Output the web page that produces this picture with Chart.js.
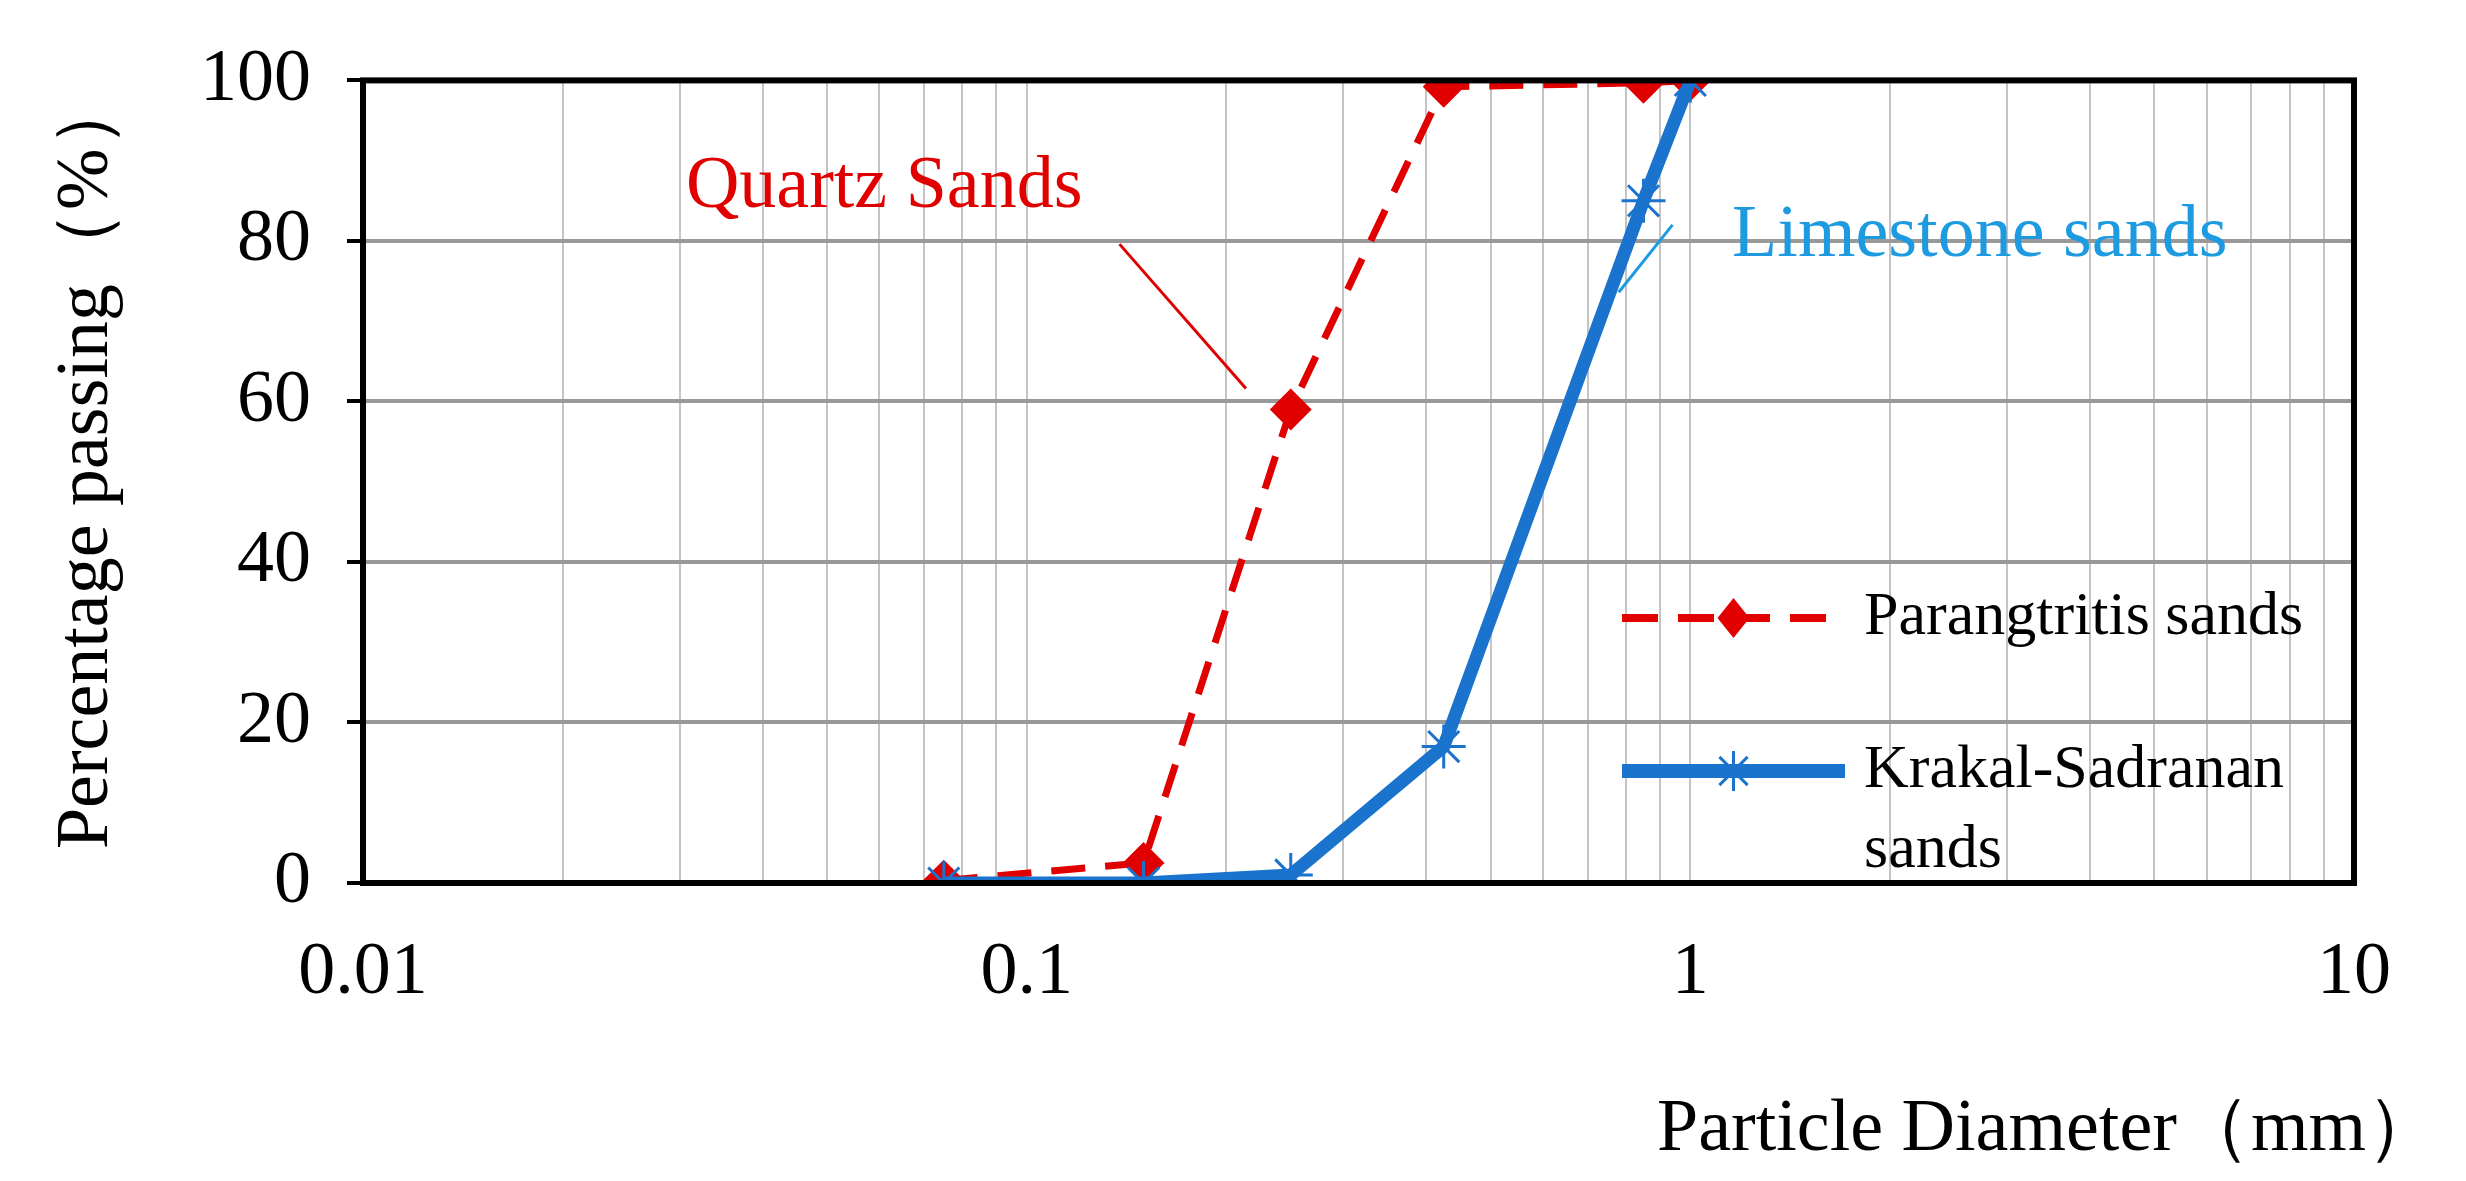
<!DOCTYPE html>
<html><head><meta charset="utf-8">
<script src="https://cdn.jsdelivr.net/npm/chart.js@4"></script>
<style>html,body{margin:0;background:#fff}#wrap{width:2466px;height:1181px}</style>
</head><body><div id="wrap"><canvas id="c"></canvas></div>
<script>
// sieve sizes (mm) and percent passing
const sizes = [0.075, 0.15, 0.25, 0.425, 0.85, 1];
const parangtritis = [0.3, 2.5, 59, 99.2, 99.7, 100];
const krakal = [0, 0, 1, 17, 85, 100];
const decades = [0.01, 0.1, 1, 10];
const yTicks = [0, 20, 40, 60, 80, 100];

const FONT = '"Liberation Serif", "DejaVu Serif", serif';
const RED = '#e00000', BLUE = '#1a73cc';

const minorTicks = [];
decades.slice(0, 3).forEach(d => { for (let m = 1; m < 10; m++) minorTicks.push(+(d * m).toPrecision(3)); });
minorTicks.push(10);

const decor = {
    id: 'decor',
    afterDraw(chart) {
        const { ctx, chartArea: a, scales: { x, y } } = chart;
        ctx.save();
        ctx.strokeStyle = '#000'; ctx.lineWidth = 6;
        ctx.strokeRect(a.left, a.top, a.right - a.left, a.bottom - a.top);

        // axis titles
        ctx.fillStyle = '#000';
        ctx.font = '74px ' + FONT;
        ctx.textAlign = 'right'; ctx.textBaseline = 'alphabetic';
        ctx.fillText('Particle Diameter\uff08mm\uff09', 2440, 1150);
        ctx.save();
        ctx.translate(88, (a.top + a.bottom) / 2 - 20);
        ctx.rotate(-Math.PI / 2);
        ctx.textAlign = 'center'; ctx.textBaseline = 'middle';
        ctx.fillText('Percentage passing\uff08%\uff09', 0, 0);
        ctx.restore();

        // annotations
        ctx.font = '74px ' + FONT;
        ctx.fillStyle = RED; ctx.textAlign = 'center'; ctx.textBaseline = 'middle';
        ctx.fillText('Quartz Sands', x.getPixelForValue(0.061), y.getPixelForValue(86.7));
        ctx.strokeStyle = RED; ctx.lineWidth = 3;
        ctx.beginPath();
        ctx.moveTo(x.getPixelForValue(0.138), y.getPixelForValue(79.6));
        ctx.lineTo(x.getPixelForValue(0.214), y.getPixelForValue(61.6));
        ctx.stroke();
        ctx.fillStyle = '#1e9be0'; ctx.textAlign = 'left';
        ctx.fillText('Limestone sands', x.getPixelForValue(1.156), y.getPixelForValue(80.6));
        ctx.strokeStyle = '#1e9be0';
        ctx.beginPath();
        ctx.moveTo(x.getPixelForValue(0.94), y.getPixelForValue(82));
        ctx.lineTo(x.getPixelForValue(0.78), y.getPixelForValue(73.6));
        ctx.stroke();

        // legend
        const lx0 = 1622, lx1 = 1845, tx = 1864;
        ctx.font = '62px ' + FONT; ctx.fillStyle = '#000';
        ctx.textBaseline = 'middle';
        let ly = 618;
        ctx.strokeStyle = RED; ctx.lineWidth = 8; ctx.setLineDash([36, 20]);
        ctx.beginPath(); ctx.moveTo(lx0, ly); ctx.lineTo(lx1, ly); ctx.stroke();
        ctx.setLineDash([]);
        const cx = (lx0 + lx1) / 2;
        ctx.fillStyle = RED;
        ctx.beginPath(); ctx.moveTo(cx, ly - 20); ctx.lineTo(cx + 16, ly); ctx.lineTo(cx, ly + 20); ctx.lineTo(cx - 16, ly); ctx.closePath(); ctx.fill();
        ctx.fillStyle = '#000';
        ctx.fillText('Parangtritis sands', tx, ly);
        ly = 771;
        ctx.strokeStyle = BLUE; ctx.lineWidth = 14;
        ctx.beginPath(); ctx.moveTo(lx0, ly); ctx.lineTo(lx1, ly); ctx.stroke();
        ctx.lineWidth = 3;
        for (let k = 0; k < 4; k++) {
            const t = k * Math.PI / 4 + Math.PI / 2;
            ctx.beginPath();
            ctx.moveTo(cx - 20 * Math.cos(t), ly - 20 * Math.sin(t));
            ctx.lineTo(cx + 20 * Math.cos(t), ly + 20 * Math.sin(t));
            ctx.stroke();
        }
        ctx.fillStyle = '#000';
        ctx.fillText('Krakal-Sadranan', tx, ly);
        ctx.fillText('sands', tx, ly + 80);
        ctx.restore();
    }
};

new Chart(document.getElementById('c'), {
    type: 'line',
    data: {
        datasets: [
            {
                label: 'Parangtritis sands',
                data: sizes.map((s, i) => ({ x: s, y: parangtritis[i] })),
                borderColor: RED, backgroundColor: RED,
                borderWidth: 7, borderDash: [34, 20],
                pointStyle: 'rectRot', pointRadius: 16,
                order: 2
            },
            {
                label: 'Krakal-Sadranan sands',
                data: sizes.map((s, i) => ({ x: s, y: krakal[i] })),
                borderColor: BLUE, backgroundColor: BLUE,
                borderWidth: 13,
                pointStyle: 'star', pointRadius: 22, pointBorderWidth: 3,
                order: 1
            }
        ]
    },
    options: {
        responsive: true, maintainAspectRatio: false, animation: false,
        layout: { padding: { top: 70, right: 112, left: 0, bottom: 0 } },
        plugins: { legend: { display: false }, tooltip: { enabled: false } },
        scales: {
            x: {
                type: 'logarithmic', min: 0.01, max: 10,
                afterBuildTicks: s => { s.ticks = minorTicks.map(v => ({ value: v })); },
                afterFit: s => { s.height = 298; },
                grid: { color: '#c4c4c4', lineWidth: 2, drawTicks: false },
                border: { display: false },
                ticks: {
                    autoSkip: false, maxRotation: 0, padding: 46, color: '#000',
                    font: { family: FONT, size: 74 },
                    callback: v => decades.includes(v) ? String(v) : ''
                }
            },
            y: {
                min: 0, max: 100,
                afterBuildTicks: s => { s.ticks = yTicks.map(v => ({ value: v })); },
                afterFit: s => { s.width = 363; },
                grid: { color: '#999', lineWidth: 4, tickColor: '#000', tickLength: 16 },
                border: { display: false },
                ticks: { padding: 36, color: '#000', font: { family: FONT, size: 74 } }
            }
        }
    },
    plugins: [decor]
});
</script></body></html>
